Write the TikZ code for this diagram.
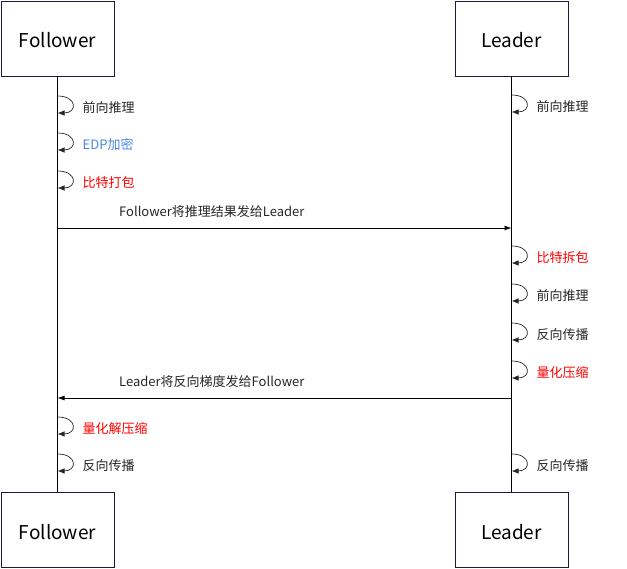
\documentclass[tikz,border=0pt]{standalone}
\usepackage{fontspec}
\setmainfont{Noto Sans CJK SC}
\usetikzlibrary{arrows.meta}
\definecolor{boxc}{HTML}{1A1A3A}
\definecolor{txt}{HTML}{262626}
\definecolor{edpblue}{HTML}{4A86E8}
\definecolor{redc}{HTML}{FF0000}
\tikzset{
 actor/.style={draw=boxc, line width=0.9pt, minimum width=113pt, minimum height=75pt, inner sep=0pt, text height=18pt, text depth=0pt, font=\fontsize{19}{21}\selectfont, text=black},
 life/.style={line width=0.8pt},
 msg/.style={line width=0.8pt, -{Latex[length=7pt,width=5pt]}},
 loopc/.style={line width=0.7pt, draw=black!85, -{Latex[length=7pt,width=5.5pt]}},
 lbl/.style={anchor=west, inner sep=0pt, font=\fontsize{13}{15}\selectfont, text=txt},
}
\newcommand\selfloop[5]{%
 \coordinate (#1a) at (#2,#3);
 \coordinate (#1b) at (#2,#3+17);
 \draw[loopc] (#1a) .. controls +(20,0) and +(20,0) .. (#1b);
 \node[lbl,#5] (#1t) at (#2+25,#3+11.5) {#4};
}
\begin{document}
\begin{tikzpicture}[x=1pt,y=-1pt]
\useasboundingbox (0,0) rectangle (627,569);
\node[actor] (fTop) at (57.5,38.5) {Follower};
\node[actor] (lTop) at (511.5,38.5) {Leader};
\node[actor] (fBot) at (57.5,530) {Follower};
\node[actor] (lBot) at (511.5,530) {Leader};
\draw[life] (fTop.south) -- (fBot.north);
\draw[life] (lTop.south) -- (lBot.north);

\selfloop{f1}{57.5}{96}{前向推理}{}
\selfloop{f2}{57.5}{133}{EDP加密}{text=edpblue}
\selfloop{f3}{57.5}{171}{比特打包}{text=redc}
\selfloop{l1}{511.5}{95}{前向推理}{}

\coordinate (m1s) at (57.5,228);
\coordinate (m1e) at (511.5,228);
\draw[msg] (m1s) -- (m1e);
\node[lbl] (m1t) at (119,211.5) {Follower将推理结果发给Leader};

\selfloop{l2}{511.5}{246}{比特拆包}{text=redc}
\selfloop{l3}{511.5}{284}{前向推理}{}
\selfloop{l4}{511.5}{323}{反向传播}{}
\selfloop{l5}{511.5}{361}{量化压缩}{text=redc}

\coordinate (m2s) at (511.5,398);
\coordinate (m2e) at (57.5,398);
\draw[msg] (m2s) -- (m2e);
\node[lbl] (m2t) at (119,381.5) {Leader将反向梯度发给Follower};

\selfloop{f4}{57.5}{417}{量化解压缩}{text=redc}
\selfloop{f5}{57.5}{454}{反向传播}{}
\selfloop{l6}{511.5}{454}{反向传播}{}
\end{tikzpicture}
\end{document}
